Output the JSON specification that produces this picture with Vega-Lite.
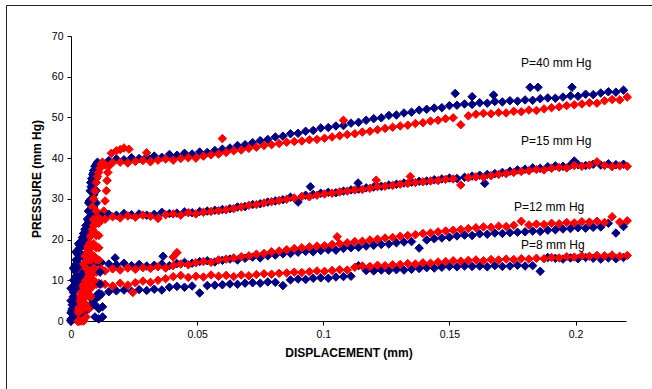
{
"$schema":"https://vega.github.io/schema/vega-lite/v6.json",
"width":555,"height":285,
"autosize":{"type":"none"},
"padding":{"left":71,"top":36,"right":26,"bottom":68},
"background":"white",
"config":{"view":{"stroke":null},"font":"Liberation Sans"},
"layer":[
{"data":{"values":[{}]},
 "mark":{"type":"rect","filled":false,"stroke":"#222","strokeWidth":1,"clip":false},
 "encoding":{"x":{"datum":-0.02557,"type":"quantitative","scale":{"domain":[0,0.22],"nice":false,"zero":false}},"x2":{"datum":0.3},"y":{"datum":77.49,"type":"quantitative","scale":{"domain":[0,70],"nice":false}},"y2":{"datum":-30}}},
{"data":{"values":[
{"P":40,"trial":"A","x":0,"y":2},{"P":40,"trial":"A","x":0,"y":5},{"P":40,"trial":"A","x":0,"y":8},{"P":40,"trial":"A","x":0.001,"y":1},{"P":40,"trial":"A","x":0.001,"y":4},{"P":40,"trial":"A","x":0.001,"y":7},{"P":40,"trial":"A","x":0.001,"y":10},{"P":40,"trial":"A","x":0.001,"y":13},{"P":40,"trial":"A","x":0.002,"y":2},{"P":40,"trial":"A","x":0.002,"y":5},{"P":40,"trial":"A","x":0.002,"y":8},{"P":40,"trial":"A","x":0.002,"y":11},{"P":40,"trial":"A","x":0.002,"y":14},{"P":40,"trial":"A","x":0.002,"y":17},{"P":40,"trial":"A","x":0.003,"y":2},{"P":40,"trial":"A","x":0.003,"y":5},{"P":40,"trial":"A","x":0.003,"y":8},{"P":40,"trial":"A","x":0.003,"y":11},{"P":40,"trial":"A","x":0.003,"y":14},{"P":40,"trial":"A","x":0.003,"y":17},{"P":40,"trial":"A","x":0.003,"y":19},{"P":40,"trial":"A","x":0.004,"y":10},{"P":40,"trial":"A","x":0.004,"y":13},{"P":40,"trial":"A","x":0.004,"y":16},{"P":40,"trial":"A","x":0.004,"y":19},{"P":40,"trial":"A","x":0.005,"y":13},{"P":40,"trial":"A","x":0.005,"y":16},{"P":40,"trial":"A","x":0.005,"y":19},{"P":40,"trial":"A","x":0.005,"y":21.5},{"P":40,"trial":"A","x":0.006,"y":15},{"P":40,"trial":"A","x":0.006,"y":18},{"P":40,"trial":"A","x":0.006,"y":21},{"P":40,"trial":"A","x":0.006,"y":23.5},{"P":40,"trial":"A","x":0.007,"y":18},{"P":40,"trial":"A","x":0.007,"y":21},{"P":40,"trial":"A","x":0.007,"y":24},{"P":40,"trial":"A","x":0.007,"y":27},{"P":40,"trial":"A","x":0.007,"y":29},{"P":40,"trial":"A","x":0.008,"y":21},{"P":40,"trial":"A","x":0.008,"y":24},{"P":40,"trial":"A","x":0.008,"y":27},{"P":40,"trial":"A","x":0.008,"y":30},{"P":40,"trial":"A","x":0.008,"y":33},{"P":40,"trial":"A","x":0.009,"y":25},{"P":40,"trial":"A","x":0.009,"y":28},{"P":40,"trial":"A","x":0.009,"y":31},{"P":40,"trial":"A","x":0.009,"y":34},{"P":40,"trial":"A","x":0.009,"y":36.5},{"P":40,"trial":"A","x":0.01,"y":29},{"P":40,"trial":"A","x":0.01,"y":32},{"P":40,"trial":"A","x":0.01,"y":35},{"P":40,"trial":"A","x":0.01,"y":38},
{"P":40,"trial":"A","x":0,"y":0.5},{"P":40,"trial":"A","x":0.0005,"y":3},{"P":40,"trial":"A","x":0.001,"y":6},{"P":40,"trial":"A","x":0.0015,"y":9},{"P":40,"trial":"A","x":0.002,"y":12},{"P":40,"trial":"A","x":0.0025,"y":15},{"P":40,"trial":"A","x":0.003,"y":17},{"P":40,"trial":"A","x":0.0035,"y":18.5},{"P":40,"trial":"A","x":0.004,"y":19.5},{"P":40,"trial":"A","x":0.0045,"y":20.5},{"P":40,"trial":"A","x":0.005,"y":21.5},{"P":40,"trial":"A","x":0.0055,"y":22.5},{"P":40,"trial":"A","x":0.006,"y":23.5},{"P":40,"trial":"A","x":0.0065,"y":25},{"P":40,"trial":"A","x":0.007,"y":27},{"P":40,"trial":"A","x":0.0073,"y":29.5},{"P":40,"trial":"A","x":0.0076,"y":32},{"P":40,"trial":"A","x":0.0078,"y":34},{"P":40,"trial":"A","x":0.0082,"y":35},{"P":40,"trial":"A","x":0.0086,"y":36},{"P":40,"trial":"A","x":0.009,"y":37},{"P":40,"trial":"A","x":0.0095,"y":38},{"P":40,"trial":"A","x":0.01,"y":38.5},{"P":40,"trial":"A","x":0.0105,"y":39},{"P":40,"trial":"A","x":0.011,"y":38.5},
{"P":40,"trial":"A","x":0.012,"y":38.6},{"P":40,"trial":"A","x":0.015,"y":39.4},{"P":40,"trial":"A","x":0.018,"y":39.8},{"P":40,"trial":"A","x":0.021,"y":39.6},{"P":40,"trial":"A","x":0.024,"y":40.1},{"P":40,"trial":"A","x":0.027,"y":39.9},{"P":40,"trial":"A","x":0.03,"y":40.3},{"P":40,"trial":"A","x":0.033,"y":40.5},{"P":40,"trial":"A","x":0.036,"y":40.2},{"P":40,"trial":"A","x":0.039,"y":40.9},{"P":40,"trial":"A","x":0.042,"y":40.7},{"P":40,"trial":"A","x":0.045,"y":41.2},{"P":40,"trial":"A","x":0.048,"y":41},{"P":40,"trial":"A","x":0.051,"y":41.5},{"P":40,"trial":"A","x":0.054,"y":41.4},{"P":40,"trial":"A","x":0.057,"y":41.9},{"P":40,"trial":"A","x":0.06,"y":42.2},{"P":40,"trial":"A","x":0.063,"y":42.5},{"P":40,"trial":"A","x":0.066,"y":43.1},{"P":40,"trial":"A","x":0.069,"y":43.3},{"P":40,"trial":"A","x":0.072,"y":43.8},{"P":40,"trial":"A","x":0.075,"y":44.3},{"P":40,"trial":"A","x":0.078,"y":44.6},{"P":40,"trial":"A","x":0.081,"y":45.2},{"P":40,"trial":"A","x":0.084,"y":45.4},{"P":40,"trial":"A","x":0.087,"y":46},{"P":40,"trial":"A","x":0.09,"y":46.1},{"P":40,"trial":"A","x":0.093,"y":46.6},{"P":40,"trial":"A","x":0.096,"y":46.8},{"P":40,"trial":"A","x":0.099,"y":47.4},{"P":40,"trial":"A","x":0.102,"y":47.5},{"P":40,"trial":"A","x":0.105,"y":47.9},{"P":40,"trial":"A","x":0.108,"y":48},{"P":40,"trial":"A","x":0.111,"y":48.6},{"P":40,"trial":"A","x":0.114,"y":48.8},{"P":40,"trial":"A","x":0.117,"y":49.3},{"P":40,"trial":"A","x":0.12,"y":49.7},{"P":40,"trial":"A","x":0.123,"y":49.9},{"P":40,"trial":"A","x":0.126,"y":50.5},{"P":40,"trial":"A","x":0.129,"y":50.6},{"P":40,"trial":"A","x":0.132,"y":51.1},{"P":40,"trial":"A","x":0.135,"y":51.3},{"P":40,"trial":"A","x":0.138,"y":51.8},{"P":40,"trial":"A","x":0.141,"y":52},{"P":40,"trial":"A","x":0.144,"y":52.3},{"P":40,"trial":"A","x":0.147,"y":52.4},{"P":40,"trial":"A","x":0.15,"y":52.9},{"P":40,"trial":"A","x":0.153,"y":53},{"P":40,"trial":"A","x":0.156,"y":53.3},{"P":40,"trial":"A","x":0.159,"y":53.2},{"P":40,"trial":"A","x":0.162,"y":53.6},{"P":40,"trial":"A","x":0.165,"y":53.5},{"P":40,"trial":"A","x":0.168,"y":53.9},{"P":40,"trial":"A","x":0.171,"y":53.8},{"P":40,"trial":"A","x":0.174,"y":54.1},{"P":40,"trial":"A","x":0.177,"y":54},{"P":40,"trial":"A","x":0.18,"y":54.3},{"P":40,"trial":"A","x":0.183,"y":54.2},{"P":40,"trial":"A","x":0.186,"y":54.6},{"P":40,"trial":"A","x":0.189,"y":54.8},{"P":40,"trial":"A","x":0.192,"y":54.7},{"P":40,"trial":"A","x":0.195,"y":55},{"P":40,"trial":"A","x":0.198,"y":55.3},{"P":40,"trial":"A","x":0.201,"y":55.2},{"P":40,"trial":"A","x":0.204,"y":55.7},{"P":40,"trial":"A","x":0.207,"y":55.6},{"P":40,"trial":"A","x":0.21,"y":56},{"P":40,"trial":"A","x":0.213,"y":56.3},{"P":40,"trial":"A","x":0.216,"y":56.2},{"P":40,"trial":"A","x":0.219,"y":56.7},
{"P":40,"trial":"A","x":0.1523,"y":55.9},{"P":40,"trial":"A","x":0.159,"y":55.1},{"P":40,"trial":"A","x":0.1675,"y":55.5},{"P":40,"trial":"A","x":0.182,"y":57.4},{"P":40,"trial":"A","x":0.1851,"y":57.4},{"P":40,"trial":"A","x":0.1986,"y":57.4},
{"P":40,"trial":"B","x":0.0025,"y":0},{"P":40,"trial":"B","x":0.003,"y":3},{"P":40,"trial":"B","x":0.0035,"y":6},{"P":40,"trial":"B","x":0.004,"y":9},{"P":40,"trial":"B","x":0.0045,"y":12},{"P":40,"trial":"B","x":0.005,"y":14},{"P":40,"trial":"B","x":0.0055,"y":16},{"P":40,"trial":"B","x":0.006,"y":18},{"P":40,"trial":"B","x":0.0065,"y":20},{"P":40,"trial":"B","x":0.007,"y":22},{"P":40,"trial":"B","x":0.0075,"y":24},{"P":40,"trial":"B","x":0.008,"y":26},{"P":40,"trial":"B","x":0.0085,"y":28},{"P":40,"trial":"B","x":0.009,"y":30},{"P":40,"trial":"B","x":0.0095,"y":32},{"P":40,"trial":"B","x":0.01,"y":34},{"P":40,"trial":"B","x":0.0105,"y":35.5},{"P":40,"trial":"B","x":0.011,"y":36.5},{"P":40,"trial":"B","x":0.0115,"y":37.5},{"P":40,"trial":"B","x":0.012,"y":38.5},{"P":40,"trial":"B","x":0.0125,"y":39},{"P":40,"trial":"B","x":0.013,"y":27},{"P":40,"trial":"B","x":0.0135,"y":29.5},{"P":40,"trial":"B","x":0.014,"y":32},{"P":40,"trial":"B","x":0.0143,"y":34.5},{"P":40,"trial":"B","x":0.0146,"y":36.5},{"P":40,"trial":"B","x":0.015,"y":38},
{"P":40,"trial":"B","x":0.0135,"y":38.3},{"P":40,"trial":"B","x":0.0165,"y":38.9},{"P":40,"trial":"B","x":0.0195,"y":39},{"P":40,"trial":"B","x":0.0225,"y":38.8},{"P":40,"trial":"B","x":0.0255,"y":39.2},{"P":40,"trial":"B","x":0.0285,"y":39.4},{"P":40,"trial":"B","x":0.0315,"y":39.1},{"P":40,"trial":"B","x":0.0345,"y":39.5},{"P":40,"trial":"B","x":0.0375,"y":39.8},{"P":40,"trial":"B","x":0.0405,"y":39.5},{"P":40,"trial":"B","x":0.0435,"y":39.9},{"P":40,"trial":"B","x":0.0465,"y":40.1},{"P":40,"trial":"B","x":0.0495,"y":40},{"P":40,"trial":"B","x":0.0525,"y":40.5},{"P":40,"trial":"B","x":0.0555,"y":40.8},{"P":40,"trial":"B","x":0.0585,"y":41},{"P":40,"trial":"B","x":0.0615,"y":41.4},{"P":40,"trial":"B","x":0.0645,"y":41.8},{"P":40,"trial":"B","x":0.0675,"y":42},{"P":40,"trial":"B","x":0.0705,"y":42.4},{"P":40,"trial":"B","x":0.0735,"y":42.7},{"P":40,"trial":"B","x":0.0765,"y":43.1},{"P":40,"trial":"B","x":0.0795,"y":43.3},{"P":40,"trial":"B","x":0.0825,"y":43.6},{"P":40,"trial":"B","x":0.0855,"y":43.9},{"P":40,"trial":"B","x":0.0885,"y":44.1},{"P":40,"trial":"B","x":0.0915,"y":44.2},{"P":40,"trial":"B","x":0.0945,"y":44.5},{"P":40,"trial":"B","x":0.0975,"y":44.6},{"P":40,"trial":"B","x":0.1005,"y":44.9},{"P":40,"trial":"B","x":0.1035,"y":45.2},{"P":40,"trial":"B","x":0.1065,"y":45.5},{"P":40,"trial":"B","x":0.1095,"y":45.8},{"P":40,"trial":"B","x":0.1125,"y":46},{"P":40,"trial":"B","x":0.1155,"y":46.4},{"P":40,"trial":"B","x":0.1185,"y":46.6},{"P":40,"trial":"B","x":0.1215,"y":47},{"P":40,"trial":"B","x":0.1245,"y":47.3},{"P":40,"trial":"B","x":0.1275,"y":47.6},{"P":40,"trial":"B","x":0.1305,"y":47.9},{"P":40,"trial":"B","x":0.1335,"y":48.1},{"P":40,"trial":"B","x":0.1365,"y":48.5},{"P":40,"trial":"B","x":0.1395,"y":48.7},{"P":40,"trial":"B","x":0.1425,"y":49.1},{"P":40,"trial":"B","x":0.1455,"y":49.3},{"P":40,"trial":"B","x":0.1485,"y":49.7},{"P":40,"trial":"B","x":0.1515,"y":49.9},{"P":40,"trial":"B","x":0.1545,"y":48.2},{"P":40,"trial":"B","x":0.1575,"y":50.4},{"P":40,"trial":"B","x":0.1605,"y":50.8},{"P":40,"trial":"B","x":0.1635,"y":51},{"P":40,"trial":"B","x":0.1665,"y":50.9},{"P":40,"trial":"B","x":0.1695,"y":51.2},{"P":40,"trial":"B","x":0.1725,"y":51.1},{"P":40,"trial":"B","x":0.1755,"y":51.5},{"P":40,"trial":"B","x":0.1785,"y":51.4},{"P":40,"trial":"B","x":0.1815,"y":51.8},{"P":40,"trial":"B","x":0.1845,"y":51.7},{"P":40,"trial":"B","x":0.1875,"y":52.1},{"P":40,"trial":"B","x":0.1905,"y":52.4},{"P":40,"trial":"B","x":0.1935,"y":52.6},{"P":40,"trial":"B","x":0.1965,"y":52.9},{"P":40,"trial":"B","x":0.1995,"y":53.1},{"P":40,"trial":"B","x":0.2025,"y":53.3},{"P":40,"trial":"B","x":0.2055,"y":53.6},{"P":40,"trial":"B","x":0.2085,"y":53.5},{"P":40,"trial":"B","x":0.2115,"y":54.1},{"P":40,"trial":"B","x":0.2145,"y":54.4},{"P":40,"trial":"B","x":0.2175,"y":54.3},{"P":40,"trial":"B","x":0.2205,"y":55},
{"P":40,"trial":"B","x":0.016,"y":41.2},{"P":40,"trial":"B","x":0.018,"y":41.8},{"P":40,"trial":"B","x":0.0195,"y":42.1},{"P":40,"trial":"B","x":0.021,"y":42.5},{"P":40,"trial":"B","x":0.023,"y":42.2},{"P":40,"trial":"B","x":0.03,"y":41.3},{"P":40,"trial":"B","x":0.06,"y":44.8},{"P":40,"trial":"B","x":0.108,"y":49.3},
{"P":15,"trial":"A","x":0,"y":0},{"P":15,"trial":"A","x":0.0003,"y":2.5},{"P":15,"trial":"A","x":0.0006,"y":5},{"P":15,"trial":"A","x":0.001,"y":7.5},{"P":15,"trial":"A","x":0.0013,"y":10},{"P":15,"trial":"A","x":0.0016,"y":12.5},{"P":15,"trial":"A","x":0.002,"y":15},{"P":15,"trial":"A","x":0.0025,"y":16.5},{"P":15,"trial":"A","x":0.003,"y":17.5},{"P":15,"trial":"A","x":0.0035,"y":18},{"P":15,"trial":"A","x":0.004,"y":19},{"P":15,"trial":"A","x":0.005,"y":20},{"P":15,"trial":"A","x":0.0055,"y":21.5},{"P":15,"trial":"A","x":0.006,"y":22.5},{"P":15,"trial":"A","x":0.0065,"y":23.5},{"P":15,"trial":"A","x":0.007,"y":24.5},{"P":15,"trial":"A","x":0.0075,"y":25.5},{"P":15,"trial":"A","x":0.008,"y":26},{"P":15,"trial":"A","x":0.0085,"y":26.5},{"P":15,"trial":"A","x":0.009,"y":26},{"P":15,"trial":"A","x":0.0095,"y":26.3},{"P":15,"trial":"A","x":0.0105,"y":26.5},
{"P":15,"trial":"A","x":0.012,"y":25.8},{"P":15,"trial":"A","x":0.015,"y":26.2},{"P":15,"trial":"A","x":0.018,"y":26},{"P":15,"trial":"A","x":0.021,"y":26.4},{"P":15,"trial":"A","x":0.024,"y":26.1},{"P":15,"trial":"A","x":0.027,"y":26.3},{"P":15,"trial":"A","x":0.03,"y":26},{"P":15,"trial":"A","x":0.033,"y":26.2},{"P":15,"trial":"A","x":0.036,"y":26.7},{"P":15,"trial":"A","x":0.039,"y":26.4},{"P":15,"trial":"A","x":0.042,"y":26.5},{"P":15,"trial":"A","x":0.045,"y":26.8},{"P":15,"trial":"A","x":0.048,"y":26.6},{"P":15,"trial":"A","x":0.051,"y":26.9},{"P":15,"trial":"A","x":0.054,"y":27},{"P":15,"trial":"A","x":0.057,"y":27.2},{"P":15,"trial":"A","x":0.06,"y":27.4},{"P":15,"trial":"A","x":0.063,"y":27.6},{"P":15,"trial":"A","x":0.066,"y":28},{"P":15,"trial":"A","x":0.069,"y":28.1},{"P":15,"trial":"A","x":0.072,"y":28.6},{"P":15,"trial":"A","x":0.075,"y":28.8},{"P":15,"trial":"A","x":0.078,"y":29.2},{"P":15,"trial":"A","x":0.081,"y":29.5},{"P":15,"trial":"A","x":0.084,"y":29.8},{"P":15,"trial":"A","x":0.087,"y":30.4},{"P":15,"trial":"A","x":0.09,"y":29.2},{"P":15,"trial":"A","x":0.093,"y":30.9},{"P":15,"trial":"A","x":0.096,"y":31.1},{"P":15,"trial":"A","x":0.099,"y":31.4},{"P":15,"trial":"A","x":0.102,"y":31.6},{"P":15,"trial":"A","x":0.105,"y":31.5},{"P":15,"trial":"A","x":0.108,"y":31.9},{"P":15,"trial":"A","x":0.111,"y":32.2},{"P":15,"trial":"A","x":0.114,"y":32.4},{"P":15,"trial":"A","x":0.117,"y":32.7},{"P":15,"trial":"A","x":0.12,"y":32.9},{"P":15,"trial":"A","x":0.123,"y":33.1},{"P":15,"trial":"A","x":0.126,"y":33.4},{"P":15,"trial":"A","x":0.129,"y":33.6},{"P":15,"trial":"A","x":0.132,"y":33.9},{"P":15,"trial":"A","x":0.135,"y":34.1},{"P":15,"trial":"A","x":0.138,"y":34.3},{"P":15,"trial":"A","x":0.141,"y":34.4},{"P":15,"trial":"A","x":0.144,"y":34.7},{"P":15,"trial":"A","x":0.147,"y":34.9},{"P":15,"trial":"A","x":0.15,"y":35.1},{"P":15,"trial":"A","x":0.153,"y":35},{"P":15,"trial":"A","x":0.156,"y":35.3},{"P":15,"trial":"A","x":0.159,"y":35.6},{"P":15,"trial":"A","x":0.162,"y":35.8},{"P":15,"trial":"A","x":0.165,"y":36},{"P":15,"trial":"A","x":0.168,"y":36.2},{"P":15,"trial":"A","x":0.171,"y":36.5},{"P":15,"trial":"A","x":0.174,"y":36.8},{"P":15,"trial":"A","x":0.177,"y":37.1},{"P":15,"trial":"A","x":0.18,"y":37.3},{"P":15,"trial":"A","x":0.183,"y":37.6},{"P":15,"trial":"A","x":0.186,"y":37.5},{"P":15,"trial":"A","x":0.189,"y":37.9},{"P":15,"trial":"A","x":0.192,"y":38.1},{"P":15,"trial":"A","x":0.195,"y":38},{"P":15,"trial":"A","x":0.198,"y":38.3},{"P":15,"trial":"A","x":0.201,"y":38.4},{"P":15,"trial":"A","x":0.204,"y":38.2},{"P":15,"trial":"A","x":0.207,"y":38.5},{"P":15,"trial":"A","x":0.21,"y":38.3},{"P":15,"trial":"A","x":0.213,"y":38.6},{"P":15,"trial":"A","x":0.216,"y":38.4},{"P":15,"trial":"A","x":0.219,"y":38.5},
{"P":15,"trial":"A","x":0.164,"y":33.8},{"P":15,"trial":"A","x":0.1995,"y":39.3},{"P":15,"trial":"A","x":0.0949,"y":33},{"P":15,"trial":"A","x":0.1138,"y":33.9},
{"P":15,"trial":"B","x":0.0035,"y":0},{"P":15,"trial":"B","x":0.004,"y":2.5},{"P":15,"trial":"B","x":0.0045,"y":5},{"P":15,"trial":"B","x":0.005,"y":7.5},{"P":15,"trial":"B","x":0.0055,"y":10},{"P":15,"trial":"B","x":0.006,"y":12.5},{"P":15,"trial":"B","x":0.0065,"y":15},{"P":15,"trial":"B","x":0.007,"y":17},{"P":15,"trial":"B","x":0.0075,"y":19},{"P":15,"trial":"B","x":0.008,"y":21},{"P":15,"trial":"B","x":0.0085,"y":22.5},{"P":15,"trial":"B","x":0.009,"y":23.5},{"P":15,"trial":"B","x":0.0095,"y":24.5},{"P":15,"trial":"B","x":0.01,"y":25},{"P":15,"trial":"B","x":0.011,"y":25.3},{"P":15,"trial":"B","x":0.012,"y":24.8},
{"P":15,"trial":"B","x":0.0135,"y":25},{"P":15,"trial":"B","x":0.0165,"y":25.6},{"P":15,"trial":"B","x":0.0195,"y":25.3},{"P":15,"trial":"B","x":0.0225,"y":25.8},{"P":15,"trial":"B","x":0.0255,"y":25.5},{"P":15,"trial":"B","x":0.0285,"y":26},{"P":15,"trial":"B","x":0.0315,"y":25.7},{"P":15,"trial":"B","x":0.0345,"y":25.2},{"P":15,"trial":"B","x":0.0375,"y":26.1},{"P":15,"trial":"B","x":0.0405,"y":26.3},{"P":15,"trial":"B","x":0.0435,"y":26},{"P":15,"trial":"B","x":0.0465,"y":26.6},{"P":15,"trial":"B","x":0.0495,"y":26.3},{"P":15,"trial":"B","x":0.0525,"y":26.7},{"P":15,"trial":"B","x":0.0555,"y":26.9},{"P":15,"trial":"B","x":0.0585,"y":27.1},{"P":15,"trial":"B","x":0.0615,"y":27.3},{"P":15,"trial":"B","x":0.0645,"y":27.6},{"P":15,"trial":"B","x":0.0675,"y":28},{"P":15,"trial":"B","x":0.0705,"y":28.4},{"P":15,"trial":"B","x":0.0735,"y":28.6},{"P":15,"trial":"B","x":0.0765,"y":29},{"P":15,"trial":"B","x":0.0795,"y":29.3},{"P":15,"trial":"B","x":0.0825,"y":29.6},{"P":15,"trial":"B","x":0.0855,"y":29.9},{"P":15,"trial":"B","x":0.0885,"y":30.2},{"P":15,"trial":"B","x":0.0915,"y":30.6},{"P":15,"trial":"B","x":0.0945,"y":30.5},{"P":15,"trial":"B","x":0.0975,"y":30.9},{"P":15,"trial":"B","x":0.1005,"y":31.2},{"P":15,"trial":"B","x":0.1035,"y":31.4},{"P":15,"trial":"B","x":0.1065,"y":31.7},{"P":15,"trial":"B","x":0.1095,"y":31.9},{"P":15,"trial":"B","x":0.1125,"y":32.2},{"P":15,"trial":"B","x":0.1155,"y":32.3},{"P":15,"trial":"B","x":0.1185,"y":32.6},{"P":15,"trial":"B","x":0.1215,"y":33},{"P":15,"trial":"B","x":0.1245,"y":33.1},{"P":15,"trial":"B","x":0.1275,"y":33.3},{"P":15,"trial":"B","x":0.1305,"y":33.6},{"P":15,"trial":"B","x":0.1335,"y":33.8},{"P":15,"trial":"B","x":0.1365,"y":34},{"P":15,"trial":"B","x":0.1395,"y":34.2},{"P":15,"trial":"B","x":0.1425,"y":34.4},{"P":15,"trial":"B","x":0.1455,"y":34.5},{"P":15,"trial":"B","x":0.1485,"y":34.8},{"P":15,"trial":"B","x":0.1515,"y":34.9},{"P":15,"trial":"B","x":0.1545,"y":33.4},{"P":15,"trial":"B","x":0.1575,"y":35.2},{"P":15,"trial":"B","x":0.1605,"y":35.4},{"P":15,"trial":"B","x":0.1635,"y":35.3},{"P":15,"trial":"B","x":0.1665,"y":35.7},{"P":15,"trial":"B","x":0.1695,"y":36},{"P":15,"trial":"B","x":0.1725,"y":36.2},{"P":15,"trial":"B","x":0.1755,"y":36.5},{"P":15,"trial":"B","x":0.1785,"y":36.7},{"P":15,"trial":"B","x":0.1815,"y":36.9},{"P":15,"trial":"B","x":0.1845,"y":37.2},{"P":15,"trial":"B","x":0.1875,"y":37.1},{"P":15,"trial":"B","x":0.1905,"y":37.5},{"P":15,"trial":"B","x":0.1935,"y":37.7},{"P":15,"trial":"B","x":0.1965,"y":37.6},{"P":15,"trial":"B","x":0.1995,"y":38.2},{"P":15,"trial":"B","x":0.2025,"y":38},{"P":15,"trial":"B","x":0.2055,"y":38.3},{"P":15,"trial":"B","x":0.2085,"y":39.1},{"P":15,"trial":"B","x":0.2115,"y":38.2},{"P":15,"trial":"B","x":0.2145,"y":37.9},{"P":15,"trial":"B","x":0.2175,"y":38.1},{"P":15,"trial":"B","x":0.2205,"y":38},
{"P":15,"trial":"B","x":0.121,"y":34.6},{"P":15,"trial":"B","x":0.1345,"y":35.5},
{"P":12,"trial":"A","x":0,"y":0},{"P":12,"trial":"A","x":0.0002,"y":2},{"P":12,"trial":"A","x":0.0005,"y":4},{"P":12,"trial":"A","x":0.001,"y":6},{"P":12,"trial":"A","x":0.0015,"y":7.5},{"P":12,"trial":"A","x":0.002,"y":9},{"P":12,"trial":"A","x":0.003,"y":10},{"P":12,"trial":"A","x":0.004,"y":11},{"P":12,"trial":"A","x":0.005,"y":12},{"P":12,"trial":"A","x":0.006,"y":12.5},{"P":12,"trial":"A","x":0.007,"y":13},{"P":12,"trial":"A","x":0.008,"y":13.5},{"P":12,"trial":"A","x":0.009,"y":14},{"P":12,"trial":"A","x":0.01,"y":14.5},{"P":12,"trial":"A","x":0.011,"y":14.3},
{"P":12,"trial":"A","x":0.012,"y":14.4},{"P":12,"trial":"A","x":0.015,"y":14},{"P":12,"trial":"A","x":0.018,"y":13.8},{"P":12,"trial":"A","x":0.021,"y":14.2},{"P":12,"trial":"A","x":0.024,"y":13.6},{"P":12,"trial":"A","x":0.027,"y":13.9},{"P":12,"trial":"A","x":0.03,"y":13.5},{"P":12,"trial":"A","x":0.033,"y":13.7},{"P":12,"trial":"A","x":0.036,"y":14},{"P":12,"trial":"A","x":0.039,"y":13.6},{"P":12,"trial":"A","x":0.042,"y":14.1},{"P":12,"trial":"A","x":0.045,"y":14.4},{"P":12,"trial":"A","x":0.048,"y":14.2},{"P":12,"trial":"A","x":0.051,"y":14.6},{"P":12,"trial":"A","x":0.054,"y":14.8},{"P":12,"trial":"A","x":0.057,"y":14.5},{"P":12,"trial":"A","x":0.06,"y":14.9},{"P":12,"trial":"A","x":0.063,"y":15.2},{"P":12,"trial":"A","x":0.066,"y":15},{"P":12,"trial":"A","x":0.069,"y":15.4},{"P":12,"trial":"A","x":0.072,"y":15.7},{"P":12,"trial":"A","x":0.075,"y":15.5},{"P":12,"trial":"A","x":0.078,"y":16},{"P":12,"trial":"A","x":0.081,"y":16.2},{"P":12,"trial":"A","x":0.084,"y":16.5},{"P":12,"trial":"A","x":0.087,"y":16.6},{"P":12,"trial":"A","x":0.09,"y":16.9},{"P":12,"trial":"A","x":0.093,"y":17.1},{"P":12,"trial":"A","x":0.096,"y":17},{"P":12,"trial":"A","x":0.099,"y":17.3},{"P":12,"trial":"A","x":0.102,"y":17.5},{"P":12,"trial":"A","x":0.105,"y":17.4},{"P":12,"trial":"A","x":0.108,"y":17.8},{"P":12,"trial":"A","x":0.111,"y":18},{"P":12,"trial":"A","x":0.114,"y":18.1},{"P":12,"trial":"A","x":0.117,"y":18.4},{"P":12,"trial":"A","x":0.12,"y":18.6},{"P":12,"trial":"A","x":0.123,"y":18.8},{"P":12,"trial":"A","x":0.126,"y":18.9},{"P":12,"trial":"A","x":0.129,"y":19.2},{"P":12,"trial":"A","x":0.132,"y":19.4},{"P":12,"trial":"A","x":0.135,"y":19.5},{"P":12,"trial":"A","x":0.138,"y":17.9},{"P":12,"trial":"A","x":0.141,"y":19.9},{"P":12,"trial":"A","x":0.144,"y":20.2},{"P":12,"trial":"A","x":0.147,"y":20.4},{"P":12,"trial":"A","x":0.15,"y":20.6},{"P":12,"trial":"A","x":0.153,"y":20.9},{"P":12,"trial":"A","x":0.156,"y":21.1},{"P":12,"trial":"A","x":0.159,"y":21},{"P":12,"trial":"A","x":0.162,"y":21.4},{"P":12,"trial":"A","x":0.165,"y":21.3},{"P":12,"trial":"A","x":0.168,"y":21.6},{"P":12,"trial":"A","x":0.171,"y":21.5},{"P":12,"trial":"A","x":0.174,"y":21.7},{"P":12,"trial":"A","x":0.177,"y":21.8},{"P":12,"trial":"A","x":0.18,"y":21.9},{"P":12,"trial":"A","x":0.183,"y":22.1},{"P":12,"trial":"A","x":0.186,"y":22},{"P":12,"trial":"A","x":0.189,"y":22.3},{"P":12,"trial":"A","x":0.192,"y":22.4},{"P":12,"trial":"A","x":0.195,"y":22.6},{"P":12,"trial":"A","x":0.198,"y":22.7},{"P":12,"trial":"A","x":0.201,"y":22.9},{"P":12,"trial":"A","x":0.204,"y":22.8},{"P":12,"trial":"A","x":0.207,"y":23},{"P":12,"trial":"A","x":0.21,"y":23.1},{"P":12,"trial":"A","x":0.213,"y":24},{"P":12,"trial":"A","x":0.216,"y":21.6},{"P":12,"trial":"A","x":0.219,"y":23.2},
{"P":12,"trial":"A","x":0.0175,"y":15.5},{"P":12,"trial":"A","x":0.0365,"y":15.9},
{"P":12,"trial":"B","x":0.003,"y":0},{"P":12,"trial":"B","x":0.0032,"y":2.5},{"P":12,"trial":"B","x":0.0036,"y":5},{"P":12,"trial":"B","x":0.004,"y":7},{"P":12,"trial":"B","x":0.005,"y":8.5},{"P":12,"trial":"B","x":0.006,"y":10},{"P":12,"trial":"B","x":0.007,"y":11},{"P":12,"trial":"B","x":0.008,"y":11.5},{"P":12,"trial":"B","x":0.009,"y":12},{"P":12,"trial":"B","x":0.01,"y":12.2},{"P":12,"trial":"B","x":0.011,"y":12.5},{"P":12,"trial":"B","x":0.012,"y":12.8},
{"P":12,"trial":"B","x":0.0135,"y":12.3},{"P":12,"trial":"B","x":0.0165,"y":12.8},{"P":12,"trial":"B","x":0.0195,"y":12.5},{"P":12,"trial":"B","x":0.0225,"y":13},{"P":12,"trial":"B","x":0.0255,"y":12.7},{"P":12,"trial":"B","x":0.0285,"y":13.1},{"P":12,"trial":"B","x":0.0315,"y":12.9},{"P":12,"trial":"B","x":0.0345,"y":13.3},{"P":12,"trial":"B","x":0.0375,"y":13},{"P":12,"trial":"B","x":0.0405,"y":13.6},{"P":12,"trial":"B","x":0.0435,"y":14},{"P":12,"trial":"B","x":0.0465,"y":13.8},{"P":12,"trial":"B","x":0.0495,"y":14.3},{"P":12,"trial":"B","x":0.0525,"y":14.6},{"P":12,"trial":"B","x":0.0555,"y":14.4},{"P":12,"trial":"B","x":0.0585,"y":15},{"P":12,"trial":"B","x":0.0615,"y":15.2},{"P":12,"trial":"B","x":0.0645,"y":15.5},{"P":12,"trial":"B","x":0.0675,"y":15.8},{"P":12,"trial":"B","x":0.0705,"y":16},{"P":12,"trial":"B","x":0.0735,"y":16.4},{"P":12,"trial":"B","x":0.0765,"y":16.6},{"P":12,"trial":"B","x":0.0795,"y":17},{"P":12,"trial":"B","x":0.0825,"y":17.2},{"P":12,"trial":"B","x":0.0855,"y":17.5},{"P":12,"trial":"B","x":0.0885,"y":17.8},{"P":12,"trial":"B","x":0.0915,"y":18},{"P":12,"trial":"B","x":0.0945,"y":18.2},{"P":12,"trial":"B","x":0.0975,"y":18.4},{"P":12,"trial":"B","x":0.1005,"y":18.5},{"P":12,"trial":"B","x":0.1035,"y":18.8},{"P":12,"trial":"B","x":0.1065,"y":19},{"P":12,"trial":"B","x":0.1095,"y":19.2},{"P":12,"trial":"B","x":0.1125,"y":19.5},{"P":12,"trial":"B","x":0.1155,"y":19.6},{"P":12,"trial":"B","x":0.1185,"y":19.9},{"P":12,"trial":"B","x":0.1215,"y":20.1},{"P":12,"trial":"B","x":0.1245,"y":20.4},{"P":12,"trial":"B","x":0.1275,"y":20.5},{"P":12,"trial":"B","x":0.1305,"y":20.8},{"P":12,"trial":"B","x":0.1335,"y":21},{"P":12,"trial":"B","x":0.1365,"y":21.2},{"P":12,"trial":"B","x":0.1395,"y":21.5},{"P":12,"trial":"B","x":0.1425,"y":21.6},{"P":12,"trial":"B","x":0.1455,"y":21.9},{"P":12,"trial":"B","x":0.1485,"y":22.1},{"P":12,"trial":"B","x":0.1515,"y":22.3},{"P":12,"trial":"B","x":0.1545,"y":22.5},{"P":12,"trial":"B","x":0.1575,"y":22.7},{"P":12,"trial":"B","x":0.1605,"y":22.9},{"P":12,"trial":"B","x":0.1635,"y":23.1},{"P":12,"trial":"B","x":0.1665,"y":23},{"P":12,"trial":"B","x":0.1695,"y":23.3},{"P":12,"trial":"B","x":0.1725,"y":23.2},{"P":12,"trial":"B","x":0.1755,"y":23.5},{"P":12,"trial":"B","x":0.1785,"y":24.5},{"P":12,"trial":"B","x":0.1815,"y":23.6},{"P":12,"trial":"B","x":0.1845,"y":23.8},{"P":12,"trial":"B","x":0.1875,"y":23.7},{"P":12,"trial":"B","x":0.1905,"y":24},{"P":12,"trial":"B","x":0.1935,"y":23.9},{"P":12,"trial":"B","x":0.1965,"y":24.2},{"P":12,"trial":"B","x":0.1995,"y":24.1},{"P":12,"trial":"B","x":0.2025,"y":24.4},{"P":12,"trial":"B","x":0.2055,"y":24.3},{"P":12,"trial":"B","x":0.2085,"y":24.5},{"P":12,"trial":"B","x":0.2115,"y":24.2},{"P":12,"trial":"B","x":0.2145,"y":25.6},{"P":12,"trial":"B","x":0.2175,"y":24.3},{"P":12,"trial":"B","x":0.2205,"y":24.6},
{"P":12,"trial":"B","x":0.0405,"y":15.7},{"P":12,"trial":"B","x":0.042,"y":16.8},{"P":12,"trial":"B","x":0.1055,"y":20.7},
{"P":8,"trial":"A","x":0,"y":0},{"P":8,"trial":"A","x":0.001,"y":0.5},{"P":8,"trial":"A","x":0.002,"y":1},{"P":8,"trial":"A","x":0.003,"y":1.5},{"P":8,"trial":"A","x":0.004,"y":1.5},{"P":8,"trial":"A","x":0.005,"y":2},{"P":8,"trial":"A","x":0.006,"y":2.5},{"P":8,"trial":"A","x":0.007,"y":3},{"P":8,"trial":"A","x":0.008,"y":3.5},{"P":8,"trial":"A","x":0.0085,"y":4.5},{"P":8,"trial":"A","x":0.009,"y":5},{"P":8,"trial":"A","x":0.0095,"y":5.5},{"P":8,"trial":"A","x":0.01,"y":6},{"P":8,"trial":"A","x":0.0105,"y":6.5},{"P":8,"trial":"A","x":0.011,"y":6.8},
{"P":8,"trial":"A","x":0.012,"y":6.6},{"P":8,"trial":"A","x":0.015,"y":7.2},{"P":8,"trial":"A","x":0.018,"y":7.4},{"P":8,"trial":"A","x":0.021,"y":7.6},{"P":8,"trial":"A","x":0.024,"y":7.3},{"P":8,"trial":"A","x":0.027,"y":7.7},{"P":8,"trial":"A","x":0.03,"y":7.5},{"P":8,"trial":"A","x":0.033,"y":7.8},{"P":8,"trial":"A","x":0.036,"y":7.6},{"P":8,"trial":"A","x":0.039,"y":8.3},{"P":8,"trial":"A","x":0.042,"y":8.5},{"P":8,"trial":"A","x":0.045,"y":8.3},{"P":8,"trial":"A","x":0.048,"y":8.6},{"P":8,"trial":"A","x":0.051,"y":6.9},{"P":8,"trial":"A","x":0.054,"y":8.7},{"P":8,"trial":"A","x":0.057,"y":8.8},{"P":8,"trial":"A","x":0.06,"y":8.9},{"P":8,"trial":"A","x":0.063,"y":9.1},{"P":8,"trial":"A","x":0.066,"y":9},{"P":8,"trial":"A","x":0.069,"y":9.3},{"P":8,"trial":"A","x":0.072,"y":9.4},{"P":8,"trial":"A","x":0.075,"y":9.3},{"P":8,"trial":"A","x":0.078,"y":9.6},{"P":8,"trial":"A","x":0.081,"y":9.5},{"P":8,"trial":"A","x":0.084,"y":8.7},{"P":8,"trial":"A","x":0.087,"y":10.1},{"P":8,"trial":"A","x":0.09,"y":10.3},{"P":8,"trial":"A","x":0.093,"y":10.2},{"P":8,"trial":"A","x":0.096,"y":10.5},{"P":8,"trial":"A","x":0.099,"y":10.6},{"P":8,"trial":"A","x":0.102,"y":10.5},{"P":8,"trial":"A","x":0.105,"y":10.8},{"P":8,"trial":"A","x":0.108,"y":10.9},{"P":8,"trial":"A","x":0.111,"y":11},{"P":8,"trial":"A","x":0.114,"y":13.6},{"P":8,"trial":"A","x":0.117,"y":12.4},{"P":8,"trial":"A","x":0.12,"y":12.3},{"P":8,"trial":"A","x":0.123,"y":12.5},{"P":8,"trial":"A","x":0.126,"y":12.4},{"P":8,"trial":"A","x":0.129,"y":12.6},{"P":8,"trial":"A","x":0.132,"y":12.5},{"P":8,"trial":"A","x":0.135,"y":12.7},{"P":8,"trial":"A","x":0.138,"y":12.9},{"P":8,"trial":"A","x":0.141,"y":13.1},{"P":8,"trial":"A","x":0.144,"y":13},{"P":8,"trial":"A","x":0.147,"y":13.2},{"P":8,"trial":"A","x":0.15,"y":13.4},{"P":8,"trial":"A","x":0.153,"y":13.3},{"P":8,"trial":"A","x":0.156,"y":13.5},{"P":8,"trial":"A","x":0.159,"y":13.4},{"P":8,"trial":"A","x":0.162,"y":13.5},{"P":8,"trial":"A","x":0.165,"y":13.3},{"P":8,"trial":"A","x":0.168,"y":13.6},{"P":8,"trial":"A","x":0.171,"y":13.4},{"P":8,"trial":"A","x":0.174,"y":13.5},{"P":8,"trial":"A","x":0.177,"y":13.7},{"P":8,"trial":"A","x":0.18,"y":13.5},{"P":8,"trial":"A","x":0.183,"y":13.6},{"P":8,"trial":"A","x":0.186,"y":12.2},{"P":8,"trial":"A","x":0.189,"y":15.6},{"P":8,"trial":"A","x":0.192,"y":15.4},{"P":8,"trial":"A","x":0.195,"y":15.2},{"P":8,"trial":"A","x":0.198,"y":15.5},{"P":8,"trial":"A","x":0.201,"y":15.3},{"P":8,"trial":"A","x":0.204,"y":15.6},{"P":8,"trial":"A","x":0.207,"y":15.4},{"P":8,"trial":"A","x":0.21,"y":15.2},{"P":8,"trial":"A","x":0.213,"y":15.5},{"P":8,"trial":"A","x":0.216,"y":15.3},{"P":8,"trial":"A","x":0.219,"y":15.6},
{"P":8,"trial":"B","x":0.0028,"y":0},{"P":8,"trial":"B","x":0.003,"y":2},{"P":8,"trial":"B","x":0.0035,"y":3.5},{"P":8,"trial":"B","x":0.004,"y":4.5},{"P":8,"trial":"B","x":0.005,"y":5.5},{"P":8,"trial":"B","x":0.006,"y":6.5},{"P":8,"trial":"B","x":0.007,"y":7.5},{"P":8,"trial":"B","x":0.008,"y":8.2},{"P":8,"trial":"B","x":0.009,"y":8.8},{"P":8,"trial":"B","x":0.01,"y":9},{"P":8,"trial":"B","x":0.011,"y":9.3},{"P":8,"trial":"B","x":0.012,"y":9.1},
{"P":8,"trial":"B","x":0.0135,"y":9},{"P":8,"trial":"B","x":0.0165,"y":8.6},{"P":8,"trial":"B","x":0.0195,"y":9.3},{"P":8,"trial":"B","x":0.0225,"y":8.8},{"P":8,"trial":"B","x":0.0255,"y":9.4},{"P":8,"trial":"B","x":0.0285,"y":9.8},{"P":8,"trial":"B","x":0.0315,"y":9.5},{"P":8,"trial":"B","x":0.0345,"y":10},{"P":8,"trial":"B","x":0.0375,"y":10.4},{"P":8,"trial":"B","x":0.0405,"y":10.9},{"P":8,"trial":"B","x":0.0435,"y":11.2},{"P":8,"trial":"B","x":0.0465,"y":10.7},{"P":8,"trial":"B","x":0.0495,"y":11},{"P":8,"trial":"B","x":0.0525,"y":10.8},{"P":8,"trial":"B","x":0.0555,"y":11.3},{"P":8,"trial":"B","x":0.0585,"y":11},{"P":8,"trial":"B","x":0.0615,"y":11.2},{"P":8,"trial":"B","x":0.0645,"y":10.9},{"P":8,"trial":"B","x":0.0675,"y":11.3},{"P":8,"trial":"B","x":0.0705,"y":11.1},{"P":8,"trial":"B","x":0.0735,"y":11.4},{"P":8,"trial":"B","x":0.0765,"y":11.6},{"P":8,"trial":"B","x":0.0795,"y":11.5},{"P":8,"trial":"B","x":0.0825,"y":11.7},{"P":8,"trial":"B","x":0.0855,"y":11.8},{"P":8,"trial":"B","x":0.0885,"y":12},{"P":8,"trial":"B","x":0.0915,"y":11.9},{"P":8,"trial":"B","x":0.0945,"y":12.1},{"P":8,"trial":"B","x":0.0975,"y":12.3},{"P":8,"trial":"B","x":0.1005,"y":12.2},{"P":8,"trial":"B","x":0.1035,"y":12.4},{"P":8,"trial":"B","x":0.1065,"y":12.6},{"P":8,"trial":"B","x":0.1095,"y":12.5},{"P":8,"trial":"B","x":0.1125,"y":13.2},{"P":8,"trial":"B","x":0.1155,"y":13.5},{"P":8,"trial":"B","x":0.1185,"y":13.4},{"P":8,"trial":"B","x":0.1215,"y":13.7},{"P":8,"trial":"B","x":0.1245,"y":13.6},{"P":8,"trial":"B","x":0.1275,"y":13.8},{"P":8,"trial":"B","x":0.1305,"y":13.9},{"P":8,"trial":"B","x":0.1335,"y":14.1},{"P":8,"trial":"B","x":0.1365,"y":14},{"P":8,"trial":"B","x":0.1395,"y":14.3},{"P":8,"trial":"B","x":0.1425,"y":14.2},{"P":8,"trial":"B","x":0.1455,"y":14.5},{"P":8,"trial":"B","x":0.1485,"y":14.6},{"P":8,"trial":"B","x":0.1515,"y":14.8},{"P":8,"trial":"B","x":0.1545,"y":14.7},{"P":8,"trial":"B","x":0.1575,"y":14.9},{"P":8,"trial":"B","x":0.1605,"y":15},{"P":8,"trial":"B","x":0.1635,"y":14.8},{"P":8,"trial":"B","x":0.1665,"y":15.1},{"P":8,"trial":"B","x":0.1695,"y":15},{"P":8,"trial":"B","x":0.1725,"y":15.2},{"P":8,"trial":"B","x":0.1755,"y":15.1},{"P":8,"trial":"B","x":0.1785,"y":15.3},{"P":8,"trial":"B","x":0.1815,"y":15.2},{"P":8,"trial":"B","x":0.1845,"y":15.4},{"P":8,"trial":"B","x":0.1875,"y":15.3},{"P":8,"trial":"B","x":0.1905,"y":15.6},{"P":8,"trial":"B","x":0.1935,"y":15.5},{"P":8,"trial":"B","x":0.1965,"y":15.8},{"P":8,"trial":"B","x":0.1995,"y":15.7},{"P":8,"trial":"B","x":0.2025,"y":16},{"P":8,"trial":"B","x":0.2055,"y":15.9},{"P":8,"trial":"B","x":0.2085,"y":16.1},{"P":8,"trial":"B","x":0.2115,"y":16},{"P":8,"trial":"B","x":0.2145,"y":16.2},{"P":8,"trial":"B","x":0.2175,"y":15.9},{"P":8,"trial":"B","x":0.2205,"y":16.1},
{"P":8,"trial":"B","x":0.0245,"y":7},
{"P":40,"trial":"B","x":0.003,"y":0},{"P":40,"trial":"B","x":0.003,"y":2.5},{"P":40,"trial":"B","x":0.004,"y":0},{"P":40,"trial":"B","x":0.004,"y":3},{"P":40,"trial":"B","x":0.004,"y":6},{"P":40,"trial":"B","x":0.005,"y":0},{"P":40,"trial":"B","x":0.005,"y":3},{"P":40,"trial":"B","x":0.005,"y":6},{"P":40,"trial":"B","x":0.005,"y":9},{"P":40,"trial":"B","x":0.006,"y":1},{"P":40,"trial":"B","x":0.006,"y":4},{"P":40,"trial":"B","x":0.006,"y":7},{"P":40,"trial":"B","x":0.006,"y":10},{"P":40,"trial":"B","x":0.006,"y":13},{"P":40,"trial":"B","x":0.007,"y":3},{"P":40,"trial":"B","x":0.007,"y":6},{"P":40,"trial":"B","x":0.007,"y":9},{"P":40,"trial":"B","x":0.007,"y":12},{"P":40,"trial":"B","x":0.007,"y":15},{"P":40,"trial":"B","x":0.007,"y":18},{"P":40,"trial":"B","x":0.008,"y":6},{"P":40,"trial":"B","x":0.008,"y":9},{"P":40,"trial":"B","x":0.008,"y":12},{"P":40,"trial":"B","x":0.008,"y":15},{"P":40,"trial":"B","x":0.008,"y":18},{"P":40,"trial":"B","x":0.008,"y":21},{"P":40,"trial":"B","x":0.009,"y":10},{"P":40,"trial":"B","x":0.009,"y":13},{"P":40,"trial":"B","x":0.009,"y":16},{"P":40,"trial":"B","x":0.009,"y":19},{"P":40,"trial":"B","x":0.009,"y":22},{"P":40,"trial":"B","x":0.009,"y":25},{"P":40,"trial":"B","x":0.01,"y":12},{"P":40,"trial":"B","x":0.01,"y":15},{"P":40,"trial":"B","x":0.01,"y":18},{"P":40,"trial":"B","x":0.01,"y":21},{"P":40,"trial":"B","x":0.01,"y":24},{"P":40,"trial":"B","x":0.01,"y":27},{"P":40,"trial":"B","x":0.011,"y":15},{"P":40,"trial":"B","x":0.011,"y":18},{"P":40,"trial":"B","x":0.011,"y":21},{"P":40,"trial":"B","x":0.011,"y":24},
{"P":8,"trial":"A","x":0.0095,"y":1},{"P":8,"trial":"A","x":0.0095,"y":4},{"P":8,"trial":"A","x":0.011,"y":0.5},{"P":8,"trial":"A","x":0.011,"y":3},{"P":8,"trial":"A","x":0.011,"y":6},{"P":8,"trial":"A","x":0.0125,"y":1},{"P":8,"trial":"A","x":0.0125,"y":3.5},{"P":12,"trial":"A","x":0.0115,"y":9},{"P":12,"trial":"A","x":0.0115,"y":12}
]},
 "mark":{"type":"point","shape":"diamond","filled":true,"size":72,"opacity":1,"strokeWidth":1,"clip":false},
 "encoding":{
  "x":{"field":"x","type":"quantitative","scale":{"domain":[0,0.22],"nice":false,"zero":false},
   "axis":{"title":"DISPLACEMENT (mm)","values":[0,0.05,0.1,0.15,0.2],"format":"~g","grid":false,"labelFlush":false,"labelFont":"Liberation Sans","labelFontSize":10.5,"labelColor":"#000","tickColor":"#000","domainColor":"#000","tickSize":4,"labelPadding":4,"titleFont":"Liberation Sans","titleFontSize":12,"titleFontWeight":"bold","titleColor":"#000","titlePadding":8}},
  "y":{"field":"y","type":"quantitative","scale":{"domain":[0,70],"nice":false},
   "axis":{"title":"PRESSURE (mm Hg)","values":[0,10,20,30,40,50,60,70],"grid":false,"labelFont":"Liberation Sans","labelFontSize":10.5,"labelColor":"#000","tickColor":"#000","domainColor":"#000","tickSize":4,"labelPadding":4,"titleFont":"Liberation Sans","titleFontSize":12,"titleFontWeight":"bold","titleColor":"#000","titlePadding":8}},
  "fill":{"field":"trial","type":"nominal","scale":{"domain":["A","B"],"range":["#000080","#FF0000"]},"legend":null},
  "stroke":{"field":"trial","type":"nominal","scale":{"domain":["A","B"],"range":["#000080","#FF0000"]},"legend":null}
 }},
{"data":{"values":[
 {"label":"P=40 mm Hg","x":0.1923,"y":62.3},
 {"label":"P=15 mm Hg","x":0.1923,"y":43.2},
 {"label":"P=12 mm Hg","x":0.1895,"y":27.1},
 {"label":"P=8 mm Hg","x":0.191,"y":17.7}
 ]},
 "mark":{"type":"text","align":"center","baseline":"alphabetic","font":"Liberation Sans","fontSize":12,"color":"#000"},
 "encoding":{"x":{"field":"x","type":"quantitative"},"y":{"field":"y","type":"quantitative"},"text":{"field":"label"}}}
]
}
